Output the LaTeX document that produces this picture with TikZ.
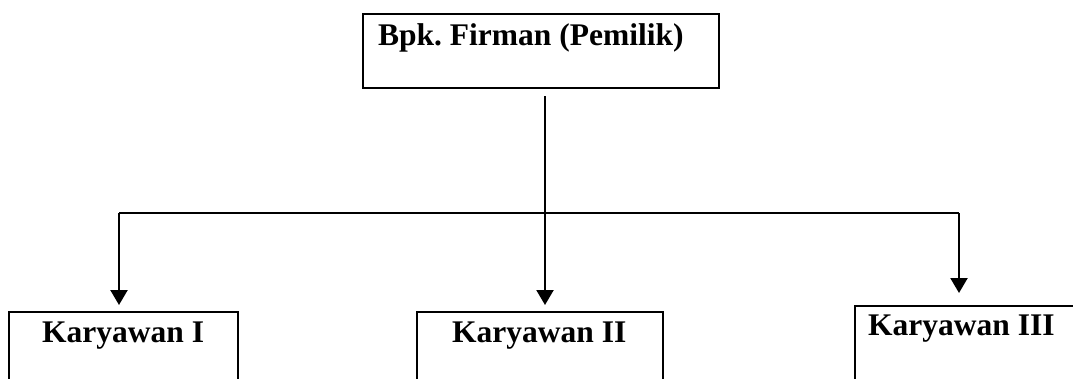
\documentclass[tikz,border=0pt]{standalone}
\usepackage{fontspec}
\setmainfont{Liberation Serif}
\usetikzlibrary{arrows.meta}
\begin{document}
\begin{tikzpicture}[x=1pt,y=-1pt,
  box/.style={draw=black, line width=2.2pt, rectangle, inner sep=0pt, anchor=north west},
  lbl/.style={inner sep=0pt, anchor=base west, font=\fontsize{31.5}{36}\selectfont\bfseries},
  conn/.style={draw=black, line width=2.2pt},
  arr/.style={conn, -{Triangle[length=15pt,width=17pt]}}]
\useasboundingbox (0,0) rectangle (1073,378);
\clip (0,0) rectangle (1073,378);
\fill[white] (0,0) rectangle (1073,378);
% boxes
\node[box, minimum width=356pt, minimum height=74pt] (boss) at (362,13) {};
\node[box, minimum width=229pt, minimum height=120pt] (k1) at (8,311) {};
\node[box, minimum width=246pt, minimum height=120pt] (k2) at (416,311) {};
\node[box, minimum width=240pt, minimum height=130pt] (k3) at (854,305) {};
% labels
\node[lbl] (tboss) at (378,45) {Bpk.\ Firman (Pemilik)};
\node[lbl] (tk1) at (42,342) {Karyawan I};
\node[lbl] (tk2) at (452,342) {Karyawan II};
\node[lbl] (tk3) at (868,335) {Karyawan III};
% connectors
\coordinate (hl) at (119,213);
\coordinate (hm) at (545,213);
\coordinate (hr) at (959,213);
\draw[conn] (hl) -- (hr);
\draw[arr, shorten <=7pt, shorten >=6pt] (boss.south -| hm) -- (k2.north -| hm);
\draw[arr, shorten >=6pt] (hl) -- (k1.north -| hl);
\draw[arr, shorten >=12pt] (hr) -- (k3.north -| hr);
\end{tikzpicture}
\end{document}
